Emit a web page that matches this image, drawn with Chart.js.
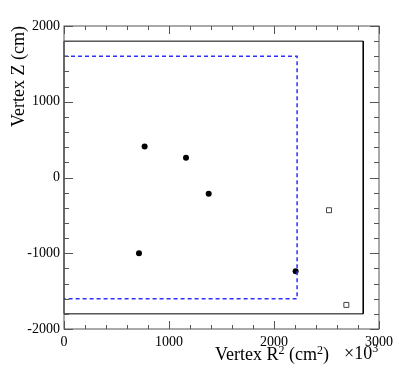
<!DOCTYPE html>
<html>
<head>
<meta charset="utf-8">
<script src="https://cdn.jsdelivr.net/npm/chart.js@4.4.1/dist/chart.umd.min.js"></script>
<style>
  html, body { margin: 0; padding: 0; background: #fff; }
  canvas { display: block; }
</style>
</head>
<body>
<canvas id="vtx" width="399" height="384"></canvas>
<script>
// vertices inside the fiducial volume (filled dots)
const rSqIn = [768, 1162, 1378, 714, 2206];
const zIn = [410, 260, -215, -1000, -1238];

// vertices outside (open squares)
const rSqOut = [2524, 2689];
const zOut = [-432, -1682];

// detector boundary (solid) and fiducial cut (dashed)
const outerR = [0, 2850, 2850, 0, 0];
const outerZ = [1800, 1800, -1800, -1800, 1800];
const fidR = [0, 2220, 2220, 0];
const fidZ = [1600, 1600, -1600, -1600];

const xTicks = [0, 1000, 2000, 3000];
const yTicks = [-2000, -1000, 0, 1000, 2000];

const toPts = (xs, ys) => xs.map((x, i) => ({ x: x, y: ys[i] }));
const serif = "'Liberation Serif', 'DejaVu Serif', serif";
const frameColor = "#555";

// text pieces with superscripts, drawn left to right from x
function drawRich(ctx, parts, x, y, rise) {
  for (const p of parts) {
    ctx.font = (p.sup ? "12px " : "18px ") + serif;
    ctx.fillText(p.t, x, p.sup ? y - rise : y);
    x += ctx.measureText(p.t).width;
  }
}

// ROOT style frame with ticks pointing inward on all four sides
const framePlugin = {
  id: "frame",
  afterDatasetsDraw(chart) {
    const { ctx, chartArea: a, scales } = chart;
    const xs = scales.x, ys = scales.y;
    ctx.save();
    ctx.strokeStyle = frameColor;
    ctx.lineWidth = 1;
    ctx.strokeRect(a.left, a.top, a.right - a.left, a.bottom - a.top);
    ctx.beginPath();
    for (let v = 0; v <= 3000; v += 200) {
      const px = Math.round(xs.getPixelForValue(v)) + 0.5;
      const len = v % 1000 === 0 ? 8 : 4;
      ctx.moveTo(px, a.bottom); ctx.lineTo(px, a.bottom - len);
      ctx.moveTo(px, a.top); ctx.lineTo(px, a.top + len);
    }
    for (let v = -2000; v <= 2000; v += 200) {
      const py = Math.round(ys.getPixelForValue(v)) + 0.5;
      const len = v % 1000 === 0 ? 9 : 5;
      ctx.moveTo(a.left, py); ctx.lineTo(a.left + len, py);
      ctx.moveTo(a.right, py); ctx.lineTo(a.right - len, py);
    }
    ctx.stroke();

    // x axis title with real superscripts, and the exponent factor
    ctx.fillStyle = "#000";
    ctx.textBaseline = "alphabetic";
    ctx.textAlign = "left";
    drawRich(ctx, [
      { t: "Vertex R" }, { t: "2", sup: true },
      { t: " (cm" }, { t: "2", sup: true }, { t: ")" }
    ], 215, 360, 6);
    drawRich(ctx, [{ t: "\u00d710" }, { t: "3", sup: true }], 344, 359, 7);
    ctx.restore();
  }
};

new Chart(document.getElementById("vtx"), {
  type: "scatter",
  plugins: [framePlugin],
  data: {
    datasets: [
      {
        data: toPts(outerR, outerZ),
        showLine: true,
        borderColor: "#000",
        borderWidth: 1,
        pointRadius: 0,
        clip: false
      },
      {
        data: toPts(fidR, fidZ),
        showLine: true,
        borderColor: "#2f2fff",
        borderWidth: 1.5,
        borderDash: [4, 3],
        pointRadius: 0,
        clip: false
      },
      {
        data: toPts(rSqIn, zIn),
        pointStyle: "circle",
        pointRadius: 3,
        backgroundColor: "#000",
        borderColor: "#000",
        borderWidth: 0
      },
      {
        data: toPts(rSqOut, zOut),
        pointStyle: "rect",
        pointRadius: 3.5,
        backgroundColor: "rgba(255,255,255,0)",
        borderColor: "#444",
        borderWidth: 1
      }
    ]
  },
  options: {
    responsive: false,
    animation: false,
    layout: { padding: { top: 26, right: 20, left: 0, bottom: 0 } },
    plugins: {
      legend: { display: false },
      tooltip: { enabled: false }
    },
    scales: {
      x: {
        type: "linear",
        min: 0,
        max: 3000,
        afterFit: (s) => { s.height = 55; },
        afterBuildTicks: (s) => { s.ticks = xTicks.map(v => ({ value: v })); },
        grid: { display: false, drawTicks: false },
        border: { display: false },
        ticks: {
          padding: 5,
          color: "#000",
          font: { family: serif, size: 14 },
          callback: (v) => String(v)
        },
        title: { display: false }
      },
      y: {
        type: "linear",
        min: -2000,
        max: 2000,
        afterFit: (s) => { s.width = 64; },
        afterBuildTicks: (s) => { s.ticks = yTicks.map(v => ({ value: v })); },
        grid: { display: false, drawTicks: false },
        border: { display: false },
        ticks: {
          padding: 4,
          color: "#000",
          font: { family: serif, size: 14 },
          callback: (v) => String(v)
        },
        title: {
          display: true,
          text: "Vertex Z (cm)",
          align: "end",
          color: "#000",
          font: { family: serif, size: 18 },
          padding: { top: 8, bottom: 0 }
        }
      }
    }
  }
});
</script>
</body>
</html>
